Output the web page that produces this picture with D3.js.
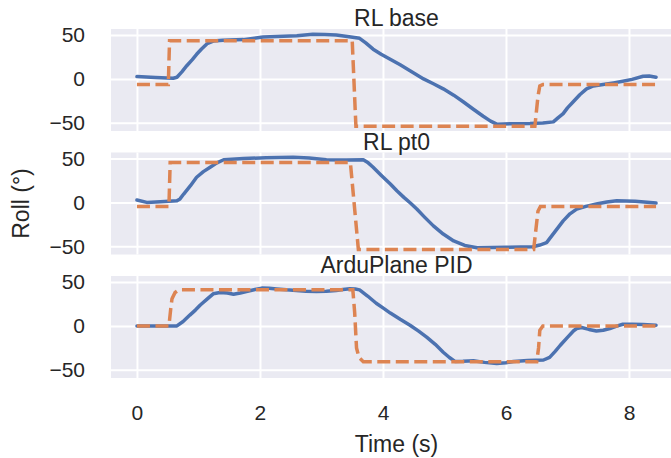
<!DOCTYPE html>
<html>
<head>
<meta charset="utf-8">
<script src="https://cdn.jsdelivr.net/npm/d3@7"></script>
<style>
  body { margin: 0; background: #fff; }
  svg text { font-family: "Liberation Sans", Arial, sans-serif; fill: #262626; }
</style>
</head>
<body>
<svg id="chart" width="671" height="458"></svg>
<script>
// panel titles
const titles = ["RL base", "RL pt0", "ArduPlane PID"];

// RL base: measured roll (blue) and setpoint (orange dashed)
const baseT = [0, 0.3, 0.59, 0.65, 0.73, 0.81, 0.9, 0.97, 1.05, 1.14, 1.24, 1.4, 1.73, 2.05, 2.38, 2.6, 2.86, 3.05, 3.24, 3.45, 3.62, 3.72, 3.84, 3.97, 4.11, 4.28, 4.44, 4.66, 4.82, 4.98, 5.15, 5.31, 5.47, 5.63, 5.75, 5.85, 6.1, 6.39, 6.6, 6.77, 6.85, 6.93, 7.0, 7.09, 7.2, 7.31, 7.42, 7.58, 7.75, 7.9, 8.05, 8.23, 8.33, 8.44];
const baseRoll = [2.6, 1.7, 0.8, 1.9, 8, 15, 22, 28, 34, 40, 43, 44, 44.7, 47.7, 48.5, 49, 50.8, 50.6, 50, 48, 46.2, 41, 33.8, 28, 22.6, 16, 9.4, 0, -5.5, -11.3, -18.5, -26.3, -34.5, -42.5, -48, -51.5, -51, -50.8, -50.3, -48.9, -44, -39.5, -33, -26.3, -18, -11.3, -8, -6.4, -4.5, -2.6, -0.5, 3, 3.2, 1.9];
const baseSpT = [0, 0.51, 0.53, 3.5, 3.56, 6.47, 6.52, 6.55, 6.6, 8.44];
const baseSp = [-6.5, -6.5, 43.5, 43.5, -54, -54, -20, -8, -6.5, -6.5];

// RL pt0
const pt0T = [0, 0.16, 0.38, 0.65, 0.7, 0.76, 0.87, 0.97, 1.08, 1.19, 1.3, 1.41, 1.73, 2.1, 2.54, 2.8, 3.08, 3.4, 3.68, 3.76, 3.84, 3.97, 4.12, 4.23, 4.34, 4.45, 4.55, 4.68, 4.82, 4.98, 5.15, 5.33, 5.53, 6.0, 6.44, 6.55, 6.66, 6.8, 6.93, 7.04, 7.15, 7.3, 7.47, 7.64, 7.8, 8.1, 8.44];
const pt0Roll = [2.7, 0, 0.8, 1.9, 4, 9.5, 19, 28.6, 35, 40, 45, 48.5, 50, 50.8, 51.5, 50.5, 48.5, 48.3, 48.5, 45, 40, 31, 21, 13, 5.7, -1, -7.6, -17, -26.7, -36, -43.9, -49, -51.5, -51, -50.4, -48.5, -45.8, -33, -21, -13, -7.6, -4.5, -1.9, 0.5, 1.9, 1.2, -0.8];
const pt0SpT = [0, 0.52, 0.54, 3.47, 3.6, 6.45, 6.52, 6.56, 8.44];
const pt0Sp = [-4.6, -4.6, 45.4, 45.4, -53.5, -53.5, -10, -4.6, -4.6];

// ArduPlane PID
const pidT = [0, 0.65, 0.75, 0.86, 0.95, 1.03, 1.14, 1.24, 1.35, 1.47, 1.57, 1.68, 1.78, 1.92, 2.03, 2.15, 2.27, 2.43, 2.59, 2.75, 2.92, 3.08, 3.24, 3.35, 3.46, 3.55, 3.62, 3.75, 3.89, 4.0, 4.12, 4.28, 4.44, 4.58, 4.71, 4.85, 4.98, 5.08, 5.17, 5.3, 5.47, 5.65, 5.85, 6.0, 6.12, 6.35, 6.61, 6.71, 6.8, 6.88, 7.0, 7.1, 7.15, 7.23, 7.35, 7.47, 7.58, 7.69, 7.8, 7.9, 8.05, 8.23, 8.44];
const pidRoll = [0, 0, 5, 12.3, 18, 23.8, 30.5, 36.5, 38, 37.5, 36, 37.5, 39.2, 41.5, 43, 42.8, 42, 41, 40.4, 39.5, 39.2, 39.5, 40.4, 41.5, 42.3, 42, 41, 34, 25.8, 20.5, 14.6, 7.5, 0.8, -6, -12.7, -21, -30, -36, -40.4, -40.2, -39.6, -41.5, -42.7, -42, -40.4, -39.5, -38.8, -35.8, -29, -22.3, -13, -5.5, -3, -1.9, -4, -5.8, -5, -3, -0.3, 1.9, 2, 1.5, 0.8];
const pidSpT = [0, 0.52, 0.55, 0.57, 0.62, 0.68, 3.51, 3.54, 3.57, 3.61, 3.68, 6.5, 6.53, 6.55, 6.6, 8.44];
const pidSp = [0, 0, 20, 31, 38, 41, 41, 15, -25, -36, -40.8, -40.8, -25, -5, 0, 0];

const yTicks = [-50, 0, 50];
const xTicks = [0, 2, 4, 6, 8];

const series = [
  { roll: [baseT, baseRoll], sp: [baseSpT, baseSp] },
  { roll: [pt0T, pt0Roll], sp: [pt0SpT, pt0Sp] },
  { roll: [pidT, pidRoll], sp: [pidSpT, pidSp] }
];

const svg = d3.select("#chart");
const left = 111, right = 682;
const panelH = 102, pitch = 123.5, top0 = 29;
const fontFam = '"Liberation Sans", Arial, sans-serif';

// shared x and y, 5% padding like matplotlib
const allT = [].concat(baseT, pt0T, pidT, baseSpT, pt0SpT, pidSpT);
const allV = [].concat(baseRoll, pt0Roll, pidRoll, baseSp, pt0Sp, pidSp);
const tExt = d3.extent(allT), vExt = d3.extent(allV);
const tPad = (tExt[1] - tExt[0]) * 0.05, vPad = (vExt[1] - vExt[0]) * 0.05;
const x = d3.scaleLinear().domain([tExt[0] - tPad, tExt[1] + tPad]).range([left, right]);

series.forEach((s, i) => {
  const top = top0 + i * pitch;
  const y = d3.scaleLinear().domain([vExt[0] - vPad, vExt[1] + vPad]).range([top + panelH, top]);
  const g = svg.append("g");

  g.append("rect")
    .attr("x", left).attr("y", top)
    .attr("width", right - left).attr("height", panelH)
    .attr("fill", "#EAEAF2");

  // grid
  g.append("g")
    .attr("transform", `translate(0,${top})`)
    .call(d3.axisBottom(x).tickValues(xTicks).tickSize(panelH).tickFormat(""))
    .call(a => a.select(".domain").remove())
    .call(a => a.selectAll("line").attr("stroke", "#fff").attr("stroke-width", 2));
  g.append("g")
    .attr("transform", `translate(${left},0)`)
    .call(d3.axisRight(y).tickValues(yTicks).tickSize(right - left).tickFormat(""))
    .call(a => a.select(".domain").remove())
    .call(a => a.selectAll("line").attr("stroke", "#fff").attr("stroke-width", 2));

  // y tick labels
  g.append("g")
    .attr("transform", `translate(${left},0)`)
    .call(d3.axisLeft(y).tickValues(yTicks).tickSize(0).tickPadding(26)
      .tickFormat(d => d < 0 ? "\u2212" + Math.abs(d) : d))
    .call(a => a.select(".domain").remove())
    .call(a => a.selectAll("text").attr("font-size", 21).attr("fill", "#262626")
      .attr("font-family", fontFam));

  const line = d3.line().x(d => x(d[0])).y(d => y(d[1]));
  const rollPts = s.roll[0].map((t, k) => [t, s.roll[1][k]]);
  const spPts = s.sp[0].map((t, k) => [t, s.sp[1][k]]);

  g.append("path").datum(rollPts)
    .attr("d", line).attr("fill", "none")
    .attr("stroke", "#4C72B0").attr("stroke-width", 3.5)
    .attr("stroke-linejoin", "round").attr("stroke-linecap", "round");
  g.append("path").datum(spPts)
    .attr("d", line).attr("fill", "none")
    .attr("stroke", "#DD8452").attr("stroke-width", 3.5)
    .attr("stroke-dasharray", "13,5.5");

  g.append("text")
    .attr("x", (left + right) / 2).attr("y", top - 3)
    .attr("text-anchor", "middle").attr("font-size", 23)
    .text(titles[i]);

  if (i === series.length - 1) {
    g.append("g")
      .attr("transform", `translate(0,${top + panelH})`)
      .call(d3.axisBottom(x).tickValues(xTicks).tickSize(0).tickPadding(27))
      .call(a => a.select(".domain").remove())
      .call(a => a.selectAll("text").attr("font-size", 21).attr("fill", "#262626")
        .attr("font-family", fontFam));
  }
});

svg.append("text")
  .attr("x", (left + right) / 2).attr("y", 452)
  .attr("text-anchor", "middle").attr("font-size", 23)
  .text("Time (s)");

svg.append("text")
  .attr("transform", `translate(29,${top0 + pitch + panelH / 2}) rotate(-90)`)
  .attr("text-anchor", "middle").attr("font-size", 23)
  .text("Roll (°)");
</script>
</body>
</html>
